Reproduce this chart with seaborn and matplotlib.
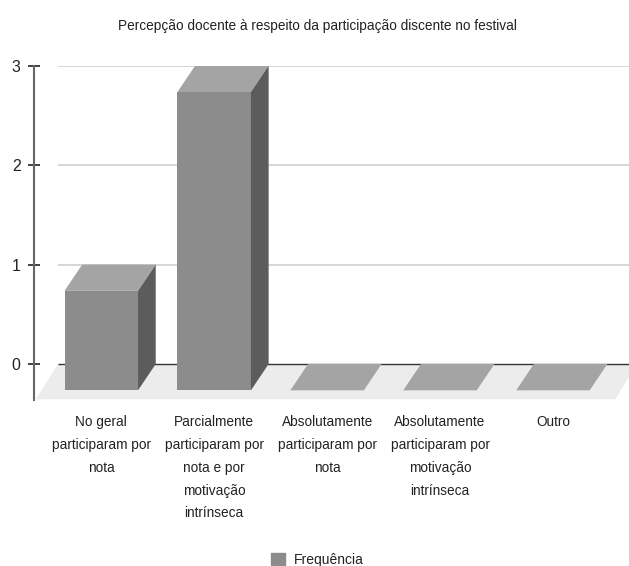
import matplotlib
matplotlib.use("Agg")
import matplotlib.pyplot as plt
from matplotlib.patches import Patch, Polygon
import pandas as pd
import seaborn as sns

categorias = ["No geral\nparticiparam por\nnota",
              "Parcialmente\nparticiparam por\nnota e por\nmotivação\nintrínseca",
              "Absolutamente\nparticiparam por\nnota",
              "Absolutamente\nparticiparam por\nmotivação\nintrínseca",
              "Outro"]
frequencia = [1, 3, 0, 0, 0]
y_ticks = [0, 1, 2, 3]
titulo = "Percepção docente à respeito da participação discente no festival"
serie = "Frequência"

W, H = 629, 566
FRONT, TOP, SIDE = "#8c8c8c", "#a4a4a4", "#5c5c5c"

# pixel scale of the plot area
px_x = 112.9
px_y = 99.4
dx = 17.7 / px_x  # depth of the fake 3d
dy = 26.3 / px_y

sns.set_theme(style="white")
plt.rcParams["font.family"] = ["Liberation Sans", "DejaVu Sans"]

fig = plt.figure(figsize=(W / 100, H / 100), dpi=100)
ax = fig.add_axes([33.5 / W, (H - 400) / H, 595.5 / W, 334.3 / H])

df = pd.DataFrame({"categoria": categorias, "freq": frequencia})
sns.barplot(data=df, x="categoria", y="freq", color=FRONT, saturation=1,
            width=0.651, ax=ax, zorder=3, linewidth=0)

ax.set_xlim(-0.757, 4.517)
ax.set_ylim(-0.362, 3)

# floor and grid
ax.add_patch(Polygon([(-0.54, 0), (4.59, 0), (4.59 - dx * 1.25, -0.355), (-0.54 - dx * 1.25, -0.355)],
                     closed=True, color="#ececec", lw=0, zorder=0.5))
ax.hlines([t for t in y_ticks if t > 0], -0.54, 4.517, color="#cccccc", lw=1.1, zorder=1)
ax.hlines(0, -0.54, 4.517, color="#333333", lw=1.0, zorder=1)

# move front faces forward, then add top and side
for bar in list(ax.patches):
    if bar.get_facecolor()[:3] != matplotlib.colors.to_rgb(FRONT):
        continue
    bar.set_x(bar.get_x() - dx)
    bar.set_y(-dy)
    x0 = bar.get_x()
    x1 = x0 + bar.get_width()
    y1 = bar.get_y() + bar.get_height()
    ax.add_patch(Polygon([(x0, y1), (x1, y1), (x1 + dx, y1 + dy), (x0 + dx, y1 + dy)],
                         closed=True, color=TOP, lw=0, zorder=3))
    if bar.get_height() > 0:
        ax.add_patch(Polygon([(x1, -dy), (x1 + dx, 0), (x1 + dx, y1 + dy), (x1, y1)],
                             closed=True, color=SIDE, lw=0, zorder=3))

for s in ["top", "right", "bottom"]:
    ax.spines[s].set_visible(False)
ax.spines["left"].set_color("#666666")
ax.spines["left"].set_linewidth(1.5)

ax.set_yticks(y_ticks)
ax.tick_params(axis="y", left=True, direction="inout", length=8.6, width=1.1, color="#111111",
               labelsize=11.5, labelcolor="#222222", pad=5)
ax.set_xticks([i - dx for i in range(len(categorias))])
ax.set_xticklabels(categorias, fontsize=9.8, color="#222222", linespacing=1.8)
ax.tick_params(axis="x", bottom=False, pad=5)
ax.set_xlabel("")
ax.set_ylabel("")

fig.text(317.5 / W, 1 - 26 / H, titulo, ha="center", va="center", fontsize=9.85, color="#222222")

leg = fig.legend(handles=[Patch(color=FRONT, label=serie)], loc="center",
                 bbox_to_anchor=(317.5 / W, 1 - 560 / H), frameon=False,
                 fontsize=10, handlelength=1.0, handleheight=1.0, handletextpad=0.6,
                 labelcolor="#222222", borderpad=0)

fig.savefig("out.png", dpi=100)
